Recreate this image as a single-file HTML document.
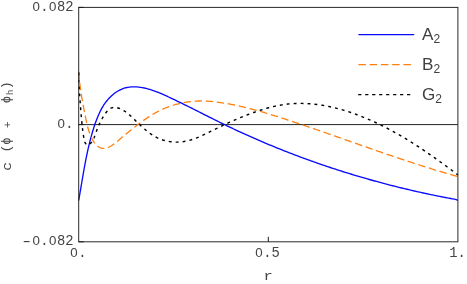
<!DOCTYPE html>
<html>
<head>
<meta charset="utf-8">
<title>c (phi + phi_h) vs r</title>
<style>
html,body{margin:0;padding:0;background:#ffffff;}
body{width:467px;height:284px;overflow:hidden;font-family:"Liberation Sans",sans-serif;}
svg{display:block;will-change:transform;}
.mono{font-family:"Liberation Mono",monospace;font-size:13.8px;fill:#444444;}
.z{font-family:"Liberation Sans",sans-serif;font-size:13.3px;}
.leg{font-family:"Liberation Sans",sans-serif;font-size:17.1px;fill:#404040;}
.sub{font-family:"Liberation Sans",sans-serif;font-size:12.0px;fill:#404040;}
</style>
</head>
<body>
<svg width="467" height="284" viewBox="0 0 467 284">
<rect x="0" y="0" width="467" height="284" fill="#ffffff"/>
<!-- zero line -->
<line x1="78.7" y1="124.6" x2="457.9" y2="124.6" stroke="#222222" stroke-width="1"/>
<!-- curves -->
<path d="M78.70,200.50 L78.99,198.72 L79.32,196.84 L79.64,194.96 L79.97,193.09 L80.28,191.23 L80.60,189.37 L80.91,187.52 L81.23,185.68 L81.54,183.83 L81.85,182.00 L82.16,180.17 L82.47,178.34 L82.78,176.51 L83.10,174.69 L83.41,172.88 L83.73,171.06 L84.05,169.25 L84.38,167.44 L84.71,165.64 L85.05,163.83 L85.39,162.03 L85.74,160.23 L86.09,158.43 L86.46,156.64 L86.83,154.84 L87.21,153.05 L87.59,151.25 L87.99,149.46 L88.40,147.67 L88.82,145.87 L89.25,144.08 L89.70,142.28 L90.15,140.49 L90.62,138.69 L91.10,136.90 L91.60,135.10 L92.11,133.30 L92.64,131.49 L93.18,129.69 L93.74,127.88 L94.32,126.07 L94.92,124.27 L95.55,122.48 L96.20,120.69 L96.87,118.92 L97.58,117.16 L98.31,115.41 L99.08,113.69 L99.89,112.00 L100.73,110.32 L101.61,108.68 L102.54,107.07 L103.51,105.49 L104.52,103.95 L105.58,102.45 L106.69,101.00 L107.85,99.58 L109.07,98.22 L110.34,96.91 L111.67,95.65 L113.06,94.45 L114.50,93.31 L116.01,92.24 L117.56,91.25 L119.16,90.35 L120.80,89.53 L122.48,88.82 L124.20,88.21 L125.94,87.72 L127.72,87.35 L129.51,87.08 L131.33,86.91 L133.16,86.83 L135.00,86.85 L136.84,86.94 L138.68,87.11 L140.52,87.35 L142.35,87.66 L144.17,88.01 L145.98,88.42 L147.77,88.88 L149.56,89.39 L151.33,89.94 L153.09,90.52 L154.85,91.15 L156.59,91.80 L158.33,92.48 L160.06,93.19 L161.78,93.93 L163.50,94.68 L165.21,95.44 L166.92,96.22 L168.62,97.01 L170.32,97.80 L172.01,98.60 L173.70,99.40 L175.39,100.21 L177.07,101.02 L178.76,101.83 L180.43,102.65 L182.11,103.47 L183.79,104.29 L185.46,105.11 L187.13,105.94 L188.79,106.77 L190.46,107.60 L192.13,108.43 L193.79,109.26 L195.45,110.10 L197.11,110.93 L198.77,111.77 L200.43,112.61 L202.09,113.44 L203.75,114.28 L205.40,115.11 L207.06,115.95 L208.72,116.78 L210.38,117.61 L212.04,118.44 L213.70,119.27 L215.36,120.10 L217.02,120.93 L218.68,121.75 L220.34,122.57 L222.01,123.38 L223.67,124.20 L225.34,125.01 L227.01,125.81 L228.68,126.62 L230.35,127.42 L232.03,128.21 L233.71,129.00 L235.39,129.79 L237.07,130.57 L238.75,131.36 L240.43,132.13 L242.12,132.91 L243.81,133.68 L245.50,134.44 L247.19,135.20 L248.88,135.96 L250.57,136.72 L252.27,137.47 L253.97,138.22 L255.67,138.96 L257.37,139.70 L259.07,140.44 L260.78,141.17 L262.48,141.90 L264.19,142.62 L265.90,143.35 L267.61,144.06 L269.33,144.78 L271.04,145.49 L272.76,146.20 L274.48,146.90 L276.20,147.60 L277.92,148.30 L279.64,148.99 L281.36,149.68 L283.09,150.36 L284.82,151.05 L286.54,151.72 L288.27,152.40 L290.01,153.07 L291.74,153.74 L293.47,154.40 L295.21,155.06 L296.95,155.72 L298.69,156.37 L300.43,157.02 L302.17,157.66 L303.91,158.30 L305.66,158.94 L307.40,159.58 L309.15,160.21 L310.90,160.83 L312.65,161.46 L314.40,162.08 L316.15,162.69 L317.91,163.30 L319.66,163.91 L321.42,164.52 L323.18,165.12 L324.94,165.72 L326.70,166.31 L328.46,166.90 L330.22,167.49 L331.99,168.07 L333.75,168.65 L335.52,169.23 L337.29,169.80 L339.05,170.37 L340.83,170.93 L342.60,171.49 L344.37,172.05 L346.14,172.61 L347.92,173.16 L349.70,173.70 L351.47,174.25 L353.25,174.79 L355.03,175.32 L356.81,175.85 L358.59,176.38 L360.38,176.91 L362.16,177.43 L363.95,177.95 L365.73,178.46 L367.52,178.97 L369.31,179.48 L371.10,179.98 L372.89,180.48 L374.68,180.98 L376.47,181.47 L378.26,181.96 L380.06,182.44 L381.85,182.92 L383.65,183.40 L385.45,183.87 L387.24,184.35 L389.04,184.81 L390.84,185.28 L392.64,185.73 L394.44,186.19 L396.25,186.64 L398.05,187.09 L399.85,187.54 L401.66,187.98 L403.47,188.42 L405.27,188.85 L407.08,189.28 L408.89,189.71 L410.70,190.13 L412.51,190.55 L414.32,190.97 L416.13,191.38 L417.94,191.79 L419.75,192.19 L421.57,192.59 L423.38,192.99 L425.20,193.39 L427.01,193.78 L428.83,194.17 L430.65,194.55 L432.47,194.93 L434.28,195.30 L436.10,195.68 L437.92,196.05 L439.74,196.41 L441.56,196.77 L443.39,197.13 L445.21,197.49 L447.03,197.84 L448.86,198.19 L450.68,198.53 L452.50,198.87 L454.33,199.21 L456.16,199.54 L457.90,200.30" fill="none" stroke="#0a0aff" stroke-width="1.35" stroke-linejoin="round"/>
<path d="M78.70,71.60 L78.83,73.39 L78.95,75.18 L79.10,76.96 L79.26,78.75 L79.44,80.53 L79.64,82.32 L79.85,84.10 L80.07,85.88 L80.30,87.66 L80.55,89.43 L80.81,91.21 L81.08,92.98 L81.36,94.75 L81.65,96.53 L81.94,98.29 L82.25,100.06 L82.56,101.83 L82.88,103.59 L83.21,105.36 L83.54,107.12 L83.88,108.88 L84.22,110.64 L84.56,112.39 L84.91,114.15 L85.26,115.90 L85.61,117.65 L85.96,119.40 L86.32,121.15 L86.70,122.89 L87.11,124.63 L87.54,126.36 L88.00,128.09 L88.50,129.80 L89.04,131.51 L89.64,133.20 L90.29,134.88 L91.00,136.56 L91.78,138.21 L92.63,139.86 L93.56,141.48 L94.59,143.03 L95.73,144.47 L97.00,145.74 L98.41,146.77 L99.95,147.55 L101.57,148.07 L103.22,148.32 L104.86,148.30 L106.46,148.02 L108.03,147.51 L109.57,146.81 L111.08,145.95 L112.58,144.97 L114.06,143.89 L115.52,142.74 L116.97,141.57 L118.41,140.39 L119.85,139.21 L121.28,138.03 L122.70,136.85 L124.12,135.68 L125.53,134.51 L126.94,133.35 L128.35,132.19 L129.76,131.04 L131.16,129.90 L132.57,128.77 L133.98,127.64 L135.39,126.53 L136.81,125.43 L138.22,124.34 L139.65,123.27 L141.08,122.21 L142.51,121.16 L143.96,120.13 L145.41,119.12 L146.87,118.13 L148.34,117.16 L149.82,116.21 L151.32,115.28 L152.83,114.37 L154.35,113.48 L155.88,112.62 L157.44,111.78 L159.00,110.97 L160.59,110.19 L162.19,109.44 L163.82,108.71 L165.46,108.02 L167.12,107.35 L168.81,106.72 L170.50,106.11 L172.22,105.54 L173.95,105.00 L175.69,104.49 L177.44,104.02 L179.20,103.58 L180.98,103.17 L182.76,102.79 L184.55,102.45 L186.34,102.14 L188.14,101.87 L189.94,101.63 L191.74,101.43 L193.54,101.27 L195.34,101.14 L197.14,101.05 L198.93,100.99 L200.73,100.97 L202.52,100.98 L204.30,101.02 L206.09,101.09 L207.87,101.18 L209.65,101.31 L211.43,101.46 L213.20,101.63 L214.98,101.82 L216.75,102.04 L218.52,102.27 L220.28,102.52 L222.05,102.79 L223.81,103.07 L225.57,103.36 L227.33,103.66 L229.09,103.98 L230.84,104.31 L232.60,104.65 L234.35,105.01 L236.10,105.37 L237.85,105.75 L239.59,106.13 L241.34,106.53 L243.08,106.94 L244.82,107.36 L246.56,107.78 L248.30,108.22 L250.03,108.66 L251.77,109.11 L253.50,109.58 L255.23,110.04 L256.96,110.52 L258.69,111.00 L260.42,111.49 L262.15,111.99 L263.87,112.49 L265.59,113.00 L267.32,113.52 L269.04,114.04 L270.76,114.56 L272.47,115.09 L274.19,115.62 L275.91,116.16 L277.62,116.70 L279.33,117.25 L281.04,117.80 L282.75,118.35 L284.46,118.90 L286.17,119.45 L287.88,120.01 L289.58,120.57 L291.29,121.13 L292.99,121.69 L294.70,122.26 L296.40,122.82 L298.10,123.39 L299.80,123.96 L301.50,124.53 L303.20,125.11 L304.90,125.68 L306.59,126.26 L308.29,126.83 L309.99,127.41 L311.68,127.99 L313.38,128.57 L315.07,129.15 L316.76,129.74 L318.46,130.32 L320.15,130.90 L321.84,131.49 L323.53,132.08 L325.23,132.67 L326.92,133.25 L328.61,133.84 L330.30,134.43 L331.99,135.02 L333.68,135.62 L335.37,136.21 L337.06,136.80 L338.75,137.39 L340.44,137.99 L342.13,138.58 L343.82,139.17 L345.51,139.77 L347.20,140.36 L348.89,140.95 L350.58,141.55 L352.27,142.14 L353.96,142.74 L355.65,143.33 L357.34,143.93 L359.03,144.52 L360.73,145.11 L362.42,145.71 L364.11,146.30 L365.80,146.89 L367.49,147.48 L369.19,148.07 L370.88,148.66 L372.57,149.25 L374.27,149.84 L375.96,150.43 L377.65,151.02 L379.35,151.61 L381.04,152.19 L382.74,152.78 L384.44,153.36 L386.13,153.94 L387.83,154.52 L389.53,155.10 L391.22,155.68 L392.92,156.26 L394.62,156.83 L396.32,157.41 L398.02,157.98 L399.72,158.55 L401.42,159.12 L403.12,159.69 L404.82,160.25 L406.52,160.81 L408.23,161.38 L409.93,161.94 L411.64,162.49 L413.34,163.05 L415.05,163.60 L416.75,164.15 L418.46,164.70 L420.17,165.25 L421.87,165.79 L423.58,166.33 L425.29,166.87 L427.00,167.41 L428.71,167.94 L430.43,168.48 L432.14,169.00 L433.85,169.53 L435.57,170.05 L437.28,170.57 L439.00,171.09 L440.71,171.60 L442.43,172.11 L444.15,172.62 L445.87,173.13 L447.59,173.63 L449.31,174.12 L451.03,174.62 L452.76,175.11 L454.48,175.60 L456.20,176.08 L457.90,176.70" fill="none" stroke="#ff7f0e" stroke-width="1.3" stroke-dasharray="7.4 3.72" stroke-dashoffset="-0.1" stroke-linejoin="round"/>
<path d="M78.70,71.60 L78.72,73.54 L78.72,75.45 L78.74,77.37 L78.78,79.31 L78.84,81.25 L78.91,83.20 L79.00,85.15 L79.10,87.11 L79.21,89.07 L79.33,91.04 L79.46,93.00 L79.60,94.97 L79.74,96.93 L79.89,98.89 L80.05,100.84 L80.20,102.79 L80.36,104.74 L80.52,106.67 L80.67,108.59 L80.83,110.50 L80.98,112.41 L81.13,114.30 L81.28,116.20 L81.44,118.09 L81.61,119.99 L81.79,121.90 L81.97,123.82 L82.18,125.76 L82.40,127.72 L82.64,129.70 L82.91,131.71 L83.20,133.75 L83.51,135.82 L83.86,137.94 L84.26,140.05 L84.81,142.00 L85.60,143.58 L86.74,144.62 L88.13,144.88 L89.56,144.23 L90.89,143.02 L92.05,141.53 L93.06,139.84 L93.95,137.99 L94.75,136.04 L95.47,134.05 L96.16,132.07 L96.82,130.17 L97.50,128.36 L98.19,126.64 L98.91,124.97 L99.68,123.32 L100.49,121.68 L101.38,120.01 L102.34,118.28 L103.38,116.49 L104.52,114.68 L105.75,112.94 L107.07,111.32 L108.49,109.89 L110.01,108.74 L111.62,107.92 L113.34,107.48 L115.13,107.42 L116.97,107.68 L118.83,108.21 L120.68,108.95 L122.50,109.87 L124.25,110.91 L125.91,112.03 L127.47,113.20 L128.97,114.42 L130.40,115.68 L131.79,116.97 L133.16,118.29 L134.52,119.63 L135.89,120.99 L137.28,122.35 L138.68,123.72 L140.10,125.08 L141.54,126.42 L143.00,127.75 L144.49,129.06 L146.00,130.33 L147.53,131.57 L149.10,132.76 L150.70,133.90 L152.32,134.99 L153.98,136.01 L155.68,136.96 L157.41,137.84 L159.18,138.63 L160.98,139.34 L162.81,139.97 L164.67,140.52 L166.55,140.99 L168.45,141.37 L170.36,141.68 L172.28,141.90 L174.22,142.05 L176.15,142.11 L178.08,142.09 L180.01,141.99 L181.93,141.82 L183.84,141.56 L185.74,141.23 L187.62,140.82 L189.48,140.34 L191.33,139.80 L193.17,139.21 L195.00,138.56 L196.82,137.86 L198.63,137.12 L200.43,136.35 L202.22,135.54 L204.00,134.71 L205.78,133.86 L207.55,132.99 L209.32,132.11 L211.08,131.22 L212.84,130.34 L214.60,129.46 L216.35,128.59 L218.10,127.73 L219.86,126.87 L221.61,126.02 L223.36,125.19 L225.12,124.36 L226.87,123.54 L228.63,122.73 L230.39,121.93 L232.15,121.14 L233.92,120.36 L235.69,119.59 L237.46,118.83 L239.24,118.08 L241.02,117.34 L242.81,116.61 L244.60,115.89 L246.40,115.19 L248.21,114.49 L250.03,113.81 L251.85,113.14 L253.68,112.48 L255.53,111.83 L257.37,111.20 L259.23,110.58 L261.10,109.98 L262.97,109.40 L264.85,108.84 L266.74,108.29 L268.63,107.77 L270.52,107.28 L272.43,106.80 L274.33,106.36 L276.24,105.94 L278.16,105.55 L280.08,105.19 L282.00,104.86 L283.92,104.56 L285.85,104.30 L287.78,104.07 L289.71,103.88 L291.64,103.72 L293.57,103.59 L295.50,103.50 L297.43,103.43 L299.37,103.40 L301.30,103.40 L303.24,103.43 L305.17,103.49 L307.10,103.58 L309.03,103.70 L310.96,103.85 L312.89,104.02 L314.82,104.23 L316.75,104.45 L318.67,104.71 L320.59,104.99 L322.51,105.29 L324.43,105.62 L326.34,105.98 L328.25,106.36 L330.16,106.76 L332.06,107.18 L333.96,107.62 L335.86,108.09 L337.75,108.58 L339.64,109.08 L341.52,109.61 L343.39,110.16 L345.26,110.72 L347.13,111.31 L348.99,111.91 L350.84,112.52 L352.69,113.16 L354.53,113.81 L356.36,114.48 L358.19,115.16 L360.01,115.85 L361.82,116.56 L363.62,117.29 L365.42,118.03 L367.22,118.78 L369.00,119.55 L370.78,120.33 L372.56,121.12 L374.32,121.93 L376.08,122.75 L377.84,123.58 L379.59,124.43 L381.33,125.29 L383.07,126.15 L384.80,127.03 L386.52,127.93 L388.24,128.83 L389.96,129.74 L391.67,130.67 L393.37,131.60 L395.07,132.55 L396.76,133.50 L398.45,134.47 L400.13,135.44 L401.81,136.42 L403.48,137.42 L405.15,138.42 L406.81,139.43 L408.47,140.45 L410.12,141.47 L411.77,142.51 L413.42,143.55 L415.06,144.60 L416.69,145.66 L418.33,146.72 L419.95,147.79 L421.58,148.87 L423.19,149.95 L424.81,151.04 L426.42,152.13 L428.03,153.23 L429.63,154.34 L431.23,155.45 L432.83,156.57 L434.42,157.69 L436.01,158.81 L437.60,159.94 L439.18,161.07 L440.76,162.21 L442.34,163.35 L443.91,164.49 L445.48,165.64 L447.05,166.79 L448.62,167.94 L450.18,169.09 L451.74,170.25 L453.30,171.40 L454.85,172.56 L456.40,173.72 L457.90,175.00" fill="none" stroke="#000000" stroke-width="1.42" stroke-dasharray="2.9 4.05" stroke-dashoffset="-1" stroke-linejoin="round"/>
<!-- frame -->
<rect x="78.7" y="7.4" width="379.2" height="234.4" fill="none" stroke="#2a2a2a" stroke-width="1"/>
<!-- ticks -->
<g stroke="#1a1a1a" stroke-width="1">
<line x1="268.3" y1="241.8" x2="268.3" y2="236.8"/>
<line x1="78.7" y1="7.4" x2="83.7" y2="7.4"/>
<line x1="78.7" y1="124.6" x2="83.7" y2="124.6"/>
<line x1="78.7" y1="241.8" x2="83.7" y2="241.8"/>
</g>
<!-- y tick labels -->
<text class="mono" text-anchor="middle" y="10.9"><tspan class="z" x="36.10">0</tspan><tspan x="44.45">.</tspan><tspan class="z" x="52.80">0</tspan><tspan x="61.15">8</tspan><tspan x="69.50">2</tspan></text>
<text class="mono" text-anchor="middle" y="127.8"><tspan class="z" x="61.15">0</tspan><tspan x="69.50">.</tspan></text>
<text class="mono" transform="translate(26.7,245.9) scale(1.55,1)" x="0" y="0" text-anchor="middle">-</text>
<text class="mono" text-anchor="middle" y="245.4"><tspan class="z" x="36.10">0</tspan><tspan x="44.45">.</tspan><tspan class="z" x="52.80">0</tspan><tspan x="61.15">8</tspan><tspan x="69.50">2</tspan></text>
<!-- x tick labels -->
<text class="mono" text-anchor="middle" y="257.0"><tspan class="z" x="74.00">0</tspan><tspan x="82.35">.</tspan></text>
<text class="mono" text-anchor="middle" y="257.0"><tspan class="z" x="259.05">0</tspan><tspan x="267.40">.</tspan><tspan x="275.75">5</tspan></text>
<text class="mono" text-anchor="middle" y="257.0"><tspan x="453.30">1</tspan><tspan x="461.65">.</tspan></text>
<!-- axis labels -->
<text class="mono" transform="translate(268.1,279.8) scale(1.25,1)" x="0" y="0" text-anchor="middle" style="font-size:12.4px">r</text>
<g transform="translate(11.3,0) rotate(-90)" class="mono" text-anchor="middle">
<text transform="translate(-166.3,-0.4) scale(1.2,1)" x="0" y="0" style="font-size:12.4px">c</text>
<text x="-148.6" y="-0.9" style="font-size:12.5px">(</text>
<text x="-141.2" y="-1.1" style="font-size:12.2px">&#981;</text>
<text x="-124.8" y="-0.35" style="font-size:11.5px">+</text>
<text x="-99.6" y="-1.1" style="font-size:12.2px">&#981;</text>
<text x="-92.4" y="1.4" style="font-size:8.6px">h</text>
<text x="-85.2" y="-0.9" style="font-size:12.5px">)</text>
</g>
<!-- legend -->
<line x1="358.4" y1="34.6" x2="414.2" y2="34.6" stroke="#0a0aff" stroke-width="1.35"/>
<line x1="358.4" y1="64.6" x2="410.9" y2="64.6" stroke="#ff7f0e" stroke-width="1.3" stroke-dasharray="7.5 3.75"/>
<line x1="358.2" y1="94.6" x2="410.4" y2="94.6" stroke="#000000" stroke-width="1.42" stroke-dasharray="3.2 3.78"/>
<text class="leg" x="422.0" y="39.5">A<tspan class="sub" dy="3.2">2</tspan></text>
<text class="leg" x="422.0" y="69.5">B<tspan class="sub" dy="3.2">2</tspan></text>
<text class="leg" x="422.0" y="99.5">G<tspan class="sub" dy="3.2">2</tspan></text>
</svg>
</body>
</html>
